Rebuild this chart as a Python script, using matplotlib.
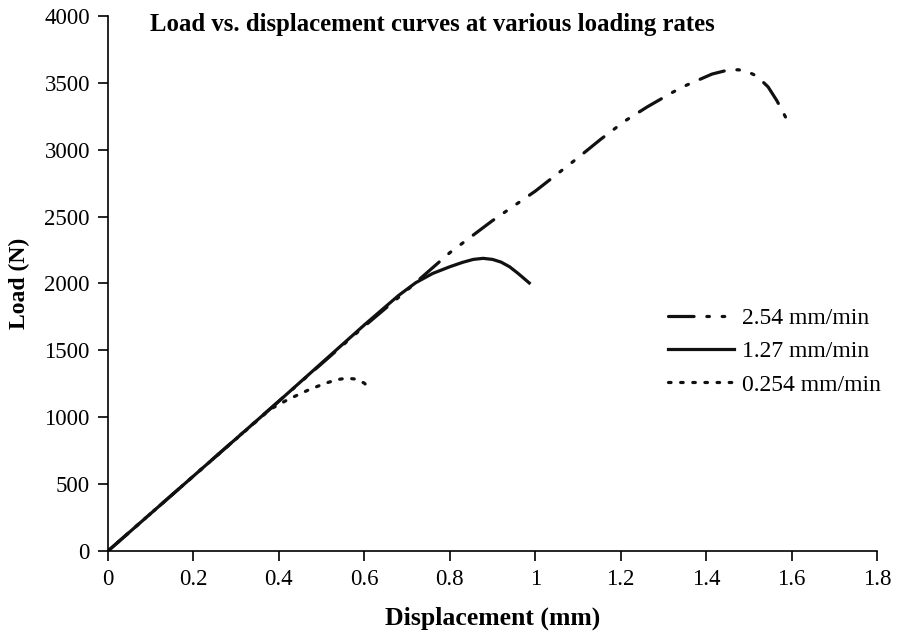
import numpy as np
import matplotlib.pyplot as plt

plt.rcParams['font.family'] = ['Liberation Serif', 'DejaVu Serif']

# loading rate 2.54 mm/min
d_254 = [0, 0.4, 0.6, 0.7, 0.8, 0.9, 1.0, 1.1, 1.154, 1.21, 1.262, 1.323,
         1.355, 1.414, 1.449, 1.475, 1.495, 1.519, 1.545, 1.565, 1.58, 1.596]
l_254 = [0, 1120, 1680, 1950, 2230, 2470, 2690, 2940, 3080, 3215, 3320, 3432,
         3484, 3566, 3594, 3598, 3587, 3550, 3470, 3370, 3282, 3178]

# loading rate 1.27 mm/min
d_127 = [0, 0.2, 0.4, 0.6, 0.68, 0.72, 0.76, 0.8, 0.83, 0.855, 0.878, 0.9,
         0.92, 0.94, 0.96, 0.986]
l_127 = [0, 560, 1120, 1690, 1910, 2005, 2075, 2125, 2158, 2180, 2188, 2180,
         2160, 2125, 2075, 2004]

# loading rate 0.254 mm/min
d_0254 = [0, 0.2, 0.38, 0.42, 0.449, 0.47, 0.496, 0.517, 0.538, 0.559, 0.58, 0.6, 0.613]
l_0254 = [0, 560, 1060, 1130, 1174, 1205, 1238, 1262, 1282, 1292, 1285, 1255, 1211]

fig = plt.figure(figsize=(9.02, 6.32), dpi=100)
ax = fig.add_axes([0.1197, 0.1282, 0.8526, 0.8465])

ax.plot(d_254, l_254, color='#111111', lw=2.3,
        ls=(0, (8, 4, 0.8, 4, 0.8, 4)), dash_capstyle='round',
        label='2.54 mm/min')
ax.plot(d_127, l_127, color='#111111', lw=2.3, label='1.27 mm/min')
ax.plot(d_0254, l_0254, color='#111111', lw=2.3,
        ls=(0, (0.8, 3)), dash_capstyle='round', label='0.254 mm/min')

ax.set_xlim(0, 1.8)
ax.set_ylim(0, 4000)
ax.set_xticks(np.arange(0, 1.81, 0.2))
ax.set_xticklabels(['0', '0.2', '0.4', '0.6', '0.8', '1', '1.2', '1.4', '1.6', '1.8'])
ax.set_yticks(np.arange(0, 4001, 500))
for s in ['top', 'right']:
    ax.spines[s].set_visible(False)
for s in ['left', 'bottom']:
    ax.spines[s].set_linewidth(1.2)
ax.tick_params(direction='out', length=7, width=1.2, labelsize=16.5, pad=6)

ax.set_xlabel('Displacement (mm)', fontsize=18.5, fontweight='bold', labelpad=12)
ax.set_ylabel('Load (N)', fontsize=17, fontweight='bold', labelpad=10)
ax.text(0.055, 1.005, 'Load vs. displacement curves at various loading rates',
        transform=ax.transAxes, fontsize=17.8, fontweight='bold', va='top')

ax.legend(loc='upper left', bbox_to_anchor=(0.7, 0.495), frameon=False,
          fontsize=17, handlelength=2.8, handletextpad=0.35, labelspacing=0.5)

fig.savefig('out.png', dpi=100)
